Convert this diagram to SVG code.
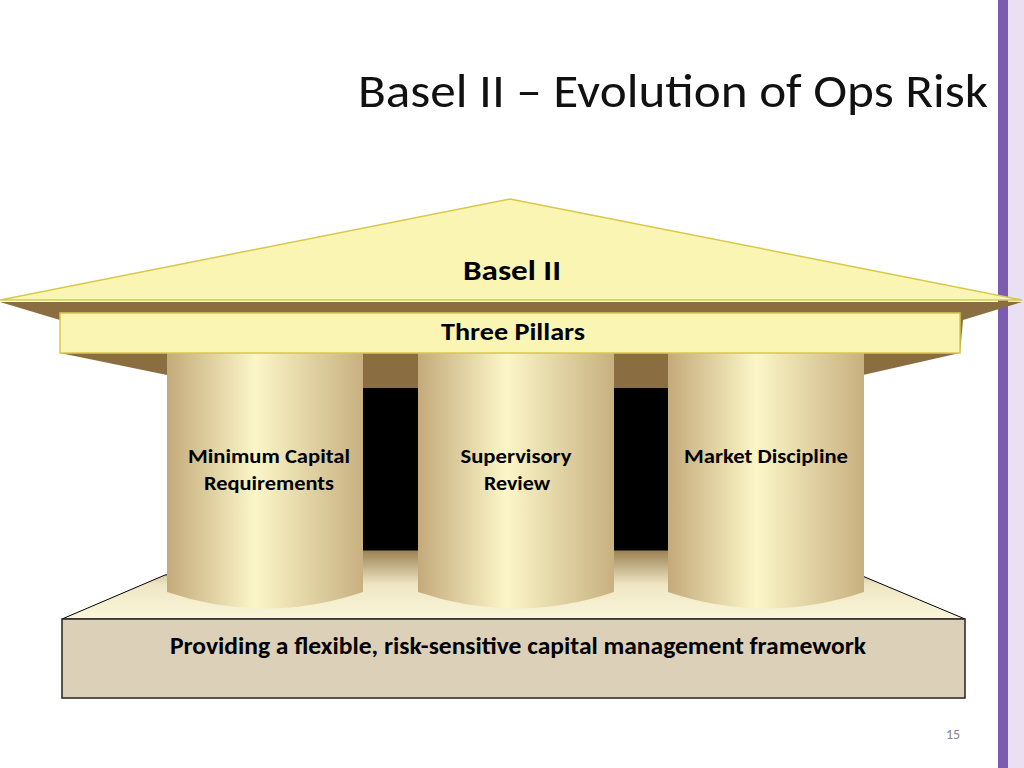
<svg xmlns="http://www.w3.org/2000/svg" width="1024" height="768" viewBox="0 0 1024 768">
<defs>
<linearGradient id="col" x1="0" x2="1" y1="0" y2="0">
<stop offset="0" stop-color="#c4aa7a"/><stop offset="0.45" stop-color="#fbf6c8"/><stop offset="1" stop-color="#c8b080"/>
</linearGradient>
<linearGradient id="floor" x1="0" x2="0" y1="0" y2="1">
<stop offset="0" stop-color="#9a8050"/><stop offset="0.5" stop-color="#efe6c4"/><stop offset="1" stop-color="#fbf7da"/>
</linearGradient>
<style>
.t{font-family:Calibri,"Carlito","Liberation Sans",sans-serif;font-weight:bold;fill:#000;text-anchor:middle}
</style>
</defs>
<rect width="1024" height="768" fill="#fff"/>
<rect x="998" y="0" width="10" height="768" fill="#7b5cb0"/>
<rect x="1008" y="0" width="16" height="768" fill="#e9e0f2"/>
<text x="673" y="107" font-family="Carlito,'Open Sans','Liberation Sans',sans-serif" font-size="48" text-anchor="middle" fill="#111" textLength="630" lengthAdjust="spacingAndGlyphs">Basel II – Evolution of Ops Risk</text>
<g id="roof">
<polygon points="0,302 1022,302 963,320 960,353 863,375 167,375 60,353 60,320" fill="#8a6d40"/>
<rect x="363" y="375" width="305" height="13" fill="#8a6d40"/>
<rect x="363" y="388" width="55" height="162" fill="#000"/>
<rect x="614" y="388" width="54" height="162" fill="#000"/>
<polygon points="510,199 1022,300 0,300" fill="#fbf5b4" stroke="#d8c84a" stroke-width="1.5"/>
<text class="t" x="512" y="280" font-size="28" textLength="98" lengthAdjust="spacingAndGlyphs">Basel II</text>
</g>
<g id="floor-g">
<polygon points="165,575 363,550 668,550 860,575 965,619 62,619" fill="url(#floor)" stroke="#000" stroke-width="1"/>
<rect x="62" y="619" width="903" height="79" fill="#ddd0b8" stroke="#222" stroke-width="1.5"/>
<text class="t" x="518" y="654" font-size="24" textLength="696" lengthAdjust="spacingAndGlyphs">Providing a flexible, risk-sensitive capital management framework</text>
</g>
<g id="pillar1">
<path d="M167,353 H363 V592 Q265,625 167,592 Z" fill="url(#col)"/>
<text class="t" x="269" y="463" font-size="21" textLength="162" lengthAdjust="spacingAndGlyphs">Minimum Capital</text>
<text class="t" x="269" y="490" font-size="21" textLength="130" lengthAdjust="spacingAndGlyphs">Requirements</text>
</g>
<g id="pillar2">
<path d="M418,353 H614 V592 Q516,625 418,592 Z" fill="url(#col)"/>
<text class="t" x="516" y="463" font-size="21" textLength="111" lengthAdjust="spacingAndGlyphs">Supervisory</text>
<text class="t" x="517" y="490" font-size="21" textLength="66" lengthAdjust="spacingAndGlyphs">Review</text>
</g>
<g id="pillar3">
<path d="M668,353 H864 V592 Q766,625 668,592 Z" fill="url(#col)"/>
<text class="t" x="766" y="463" font-size="21" textLength="164" lengthAdjust="spacingAndGlyphs">Market Discipline</text>
</g>
<g id="beam">
<rect x="60" y="313" width="900" height="40" fill="#fbf5b4" stroke="#d8c84a" stroke-width="1.5"/>
<text class="t" x="513" y="340" font-size="24" textLength="144" lengthAdjust="spacingAndGlyphs">Three Pillars</text>
</g>
<text x="953" y="739" font-family="Carlito,'Liberation Sans',sans-serif" font-size="14" fill="#888" text-anchor="middle">15</text>
</svg>
